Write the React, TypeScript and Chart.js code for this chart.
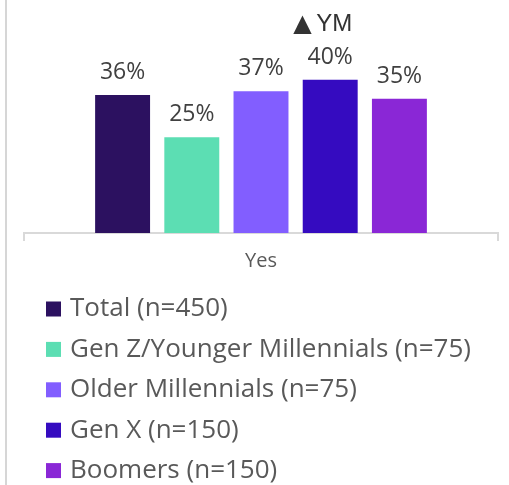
import React, { useEffect, useRef } from "react";
import { Chart, registerables } from "chart.js";

Chart.register(...registerables);

const categories = ["Yes"];
const seriesNames = [
  "Total (n=450)",
  "Gen Z/Younger Millennials (n=75)",
  "Older Millennials (n=75)",
  "Gen X (n=150)",
  "Boomers (n=150)",
];
const seriesValues = [[36], [25], [37], [40], [35]];
const seriesColors = ["#2C1160", "#5CDEB3", "#825EFF", "#350BC0", "#8A27D6"];
const seriesNoteMarks = ["", "", "", "▲", ""];
const seriesNotes = ["", "", "", "YM", ""];

const W = 509;
const H = 485;

export default function App() {
  const ref = useRef<HTMLCanvasElement | null>(null);

  useEffect(() => {
    if (!ref.current) return;

    const frameLine = {
      id: "frameLine",
      beforeDraw(chart: any) {
        const ctx = chart.ctx;
        ctx.save();
        ctx.fillStyle = "#d6d6d6";
        ctx.fillRect(5, 0, 2, chart.height);
        ctx.restore();
      },
    };

    const valueLabels = {
      id: "valueLabels",
      afterDatasetsDraw(chart: any) {
        const ctx = chart.ctx;
        ctx.save();
        chart.data.datasets.forEach((ds: any, i: number) => {
          const meta = chart.getDatasetMeta(i);
          meta.data.forEach((bar: any, j: number) => {
            const v = ds.data[j];
            ctx.font = "23px 'Open Sans'";
            ctx.fillStyle = "#404040";
            ctx.textAlign = "center";
            ctx.textBaseline = "alphabetic";
            ctx.fillText(`${v}%`, bar.x, bar.y - 16);
            const note = seriesNotes[i];
            if (note) {
              const baseY = bar.y - 49;
              ctx.textAlign = "left";
              ctx.fillStyle = "#333333";
              ctx.font = "24px 'DejaVu Sans'";
              ctx.fillText(seriesNoteMarks[i], bar.x - 37, baseY);
              ctx.font = "24px 'Liberation Sans'";
              ctx.fillText(note, bar.x - 14, baseY);
            }
          });
        });
        ctx.restore();
      },
    };

    const customLegend = {
      id: "customLegend",
      afterDraw(chart: any) {
        const ctx = chart.ctx;
        ctx.save();
        ctx.font = "26px 'Open Sans'";
        ctx.textBaseline = "middle";
        ctx.textAlign = "left";
        chart.data.datasets.forEach((ds: any, i: number) => {
          const yc = 309 + i * 40.4;
          ctx.fillStyle = ds.backgroundColor;
          ctx.fillRect(46, yc - 7.5, 15, 15);
          ctx.fillStyle = "#595959";
          ctx.fillText(ds.label, 70, yc);
        });
        ctx.restore();
      },
    };

    const chart = new Chart(ref.current, {
      type: "bar",
      data: {
        labels: categories,
        datasets: seriesNames.map((name, i) => ({
          label: name,
          data: seriesValues[i],
          backgroundColor: seriesColors[i],
          borderWidth: 0,
          categoryPercentage: 0.73,
          barPercentage: 0.794,
        })),
      },
      options: {
        responsive: false,
        animation: false,
        layout: { padding: { left: 24, right: 11, top: 3, bottom: 204 } },
        plugins: {
          legend: { display: false },
          tooltip: { enabled: false },
        },
        scales: {
          x: {
            grid: {
              display: true,
              drawOnChartArea: false,
              drawTicks: true,
              tickLength: 8,
              color: "#d9d9d9",
              lineWidth: 2,
              offset: true,
            },
            border: { display: true, color: "#d9d9d9", width: 2 },
            ticks: {
              font: { family: "'Open Sans'", size: 20 },
              color: "#595959",
              padding: 8,
            },
          },
          y: {
            display: false,
            min: 0,
            max: 60,
          },
        },
      },
      plugins: [frameLine, valueLabels, customLegend],
    });

    return () => chart.destroy();
  }, []);

  return (
    <div style={{ position: "absolute", left: 0, top: 0, width: W, height: H }}>
      <canvas ref={ref} width={W} height={H} style={{ width: W, height: H }} />
    </div>
  );
}
